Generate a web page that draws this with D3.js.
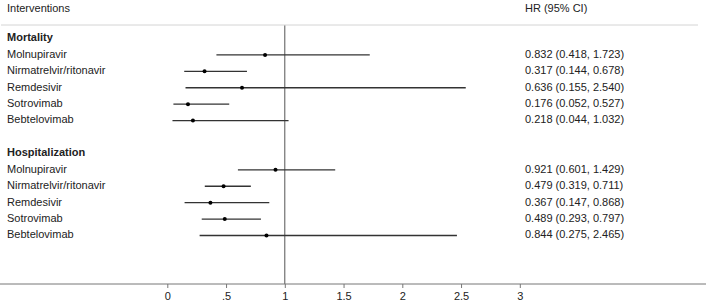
<!DOCTYPE html>
<html>
<head>
<meta charset="utf-8">
<script src="https://cdn.jsdelivr.net/npm/d3@7"></script>
<style>
  body { margin: 0; background: #fff; }
  text { font-family: "Liberation Sans", Arial, sans-serif; }
</style>
</head>
<body>
<div id="chart"></div>
<script>
const groups = ["Mortality", "Hospitalization"];
const drugs = ["Molnupiravir", "Nirmatrelvir/ritonavir", "Remdesivir", "Sotrovimab", "Bebtelovimab"];
const mortHR = [0.832, 0.317, 0.636, 0.176, 0.218];
const mortLo = [0.418, 0.144, 0.155, 0.052, 0.044];
const mortHi = [1.723, 0.678, 2.540, 0.527, 1.032];
const hospHR = [0.921, 0.479, 0.367, 0.489, 0.844];
const hospLo = [0.601, 0.319, 0.147, 0.293, 0.275];
const hospHi = [1.429, 0.711, 0.868, 0.797, 2.465];
const xTicks = [0, 0.5, 1, 1.5, 2, 2.5, 3];

const width = 709, height = 303;

// rows: header, 5 drugs, blank, header, 5 drugs
const rows = [];
[[mortHR, mortLo, mortHi], [hospHR, hospLo, hospHi]].forEach(([hr, lo, hi], g) => {
  rows.push({ label: groups[g], header: true });
  drugs.forEach((d, i) => rows.push({ label: d, hr: hr[i], lo: lo[i], hi: hi[i] }));
  if (g === 0) rows.push({ label: "", blank: true });
});

const x = d3.scaleLinear().domain([0, 3]).range([167.3, 519.8]);
const y = d3.scalePoint().domain(d3.range(rows.length)).range([38.5, 235.5]);
const axisY = 284;

const svg = d3.select("#chart").append("svg")
  .attr("width", width)
  .attr("height", height);

// column headers
svg.append("text")
  .attr("x", 7).attr("y", 9)
  .attr("dominant-baseline", "middle")
  .attr("font-size", "11px").attr("fill", "#222")
  .text("Interventions");

svg.append("text")
  .attr("x", 525).attr("y", 9)
  .attr("dominant-baseline", "middle")
  .attr("font-size", "11px").attr("fill", "#222")
  .text("HR (95% CI)");

// top rule
svg.append("line")
  .attr("x1", 1).attr("x2", 698)
  .attr("y1", 25).attr("y2", 25)
  .attr("stroke", "#d4d4d4").attr("stroke-width", 1);

// reference line at HR = 1
svg.append("line")
  .attr("x1", x(1)).attr("x2", x(1))
  .attr("y1", 25.5).attr("y2", axisY)
  .attr("stroke", "#555").attr("stroke-width", 1);

// axis
svg.append("line")
  .attr("x1", 0).attr("x2", 706)
  .attr("y1", axisY).attr("y2", axisY)
  .attr("stroke", "#777").attr("stroke-width", 1);

const axis = svg.append("g")
  .attr("transform", `translate(0,${axisY})`)
  .call(d3.axisBottom(x)
    .tickValues(xTicks)
    .tickSize(4)
    .tickFormat(d => d === 0 ? "0" : String(d).replace(/^0/, "")));
axis.select(".domain").remove();
axis.selectAll(".tick line").attr("stroke", "#777");
axis.selectAll(".tick text")
  .attr("font-size", "11px")
  .attr("font-family", "Liberation Sans, Arial, sans-serif")
  .attr("fill", "#222")
  .attr("y", 8);

// row labels
svg.selectAll(".lbl")
  .data(rows)
  .enter().append("text")
  .attr("class", "lbl")
  .attr("x", 7)
  .attr("y", (d, i) => y(i))
  .attr("dominant-baseline", "middle")
  .attr("font-size", "11px")
  .attr("font-weight", d => d.header ? "bold" : "normal")
  .attr("fill", "#222")
  .text(d => d.label);

const est = rows.map((d, i) => ({ ...d, i })).filter(d => d.hr !== undefined);

// CI lines
svg.selectAll(".ci")
  .data(est)
  .enter().append("line")
  .attr("class", "ci")
  .attr("x1", d => x(d.lo)).attr("x2", d => x(d.hi))
  .attr("y1", d => y(d.i)).attr("y2", d => y(d.i))
  .attr("stroke", "#333").attr("stroke-width", 1.3);

// point estimates
svg.selectAll(".pt")
  .data(est)
  .enter().append("circle")
  .attr("class", "pt")
  .attr("cx", d => x(d.hr))
  .attr("cy", d => y(d.i))
  .attr("r", 2)
  .attr("fill", "#000");

// HR text column
svg.selectAll(".hrtxt")
  .data(est)
  .enter().append("text")
  .attr("class", "hrtxt")
  .attr("x", 525)
  .attr("y", d => y(d.i))
  .attr("dominant-baseline", "middle")
  .attr("font-size", "11px")
  .attr("fill", "#222")
  .text(d => `${d.hr.toFixed(3)} (${d.lo.toFixed(3)}, ${d.hi.toFixed(3)})`);
</script>
</body>
</html>
